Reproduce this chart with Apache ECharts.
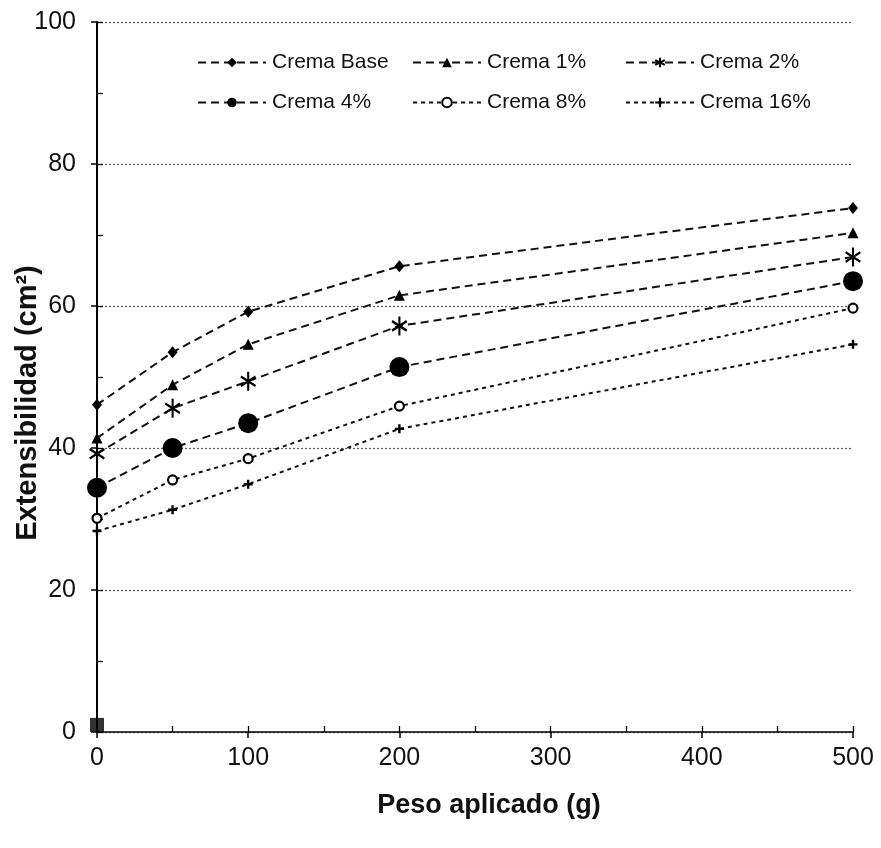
<!DOCTYPE html>
<html>
<head>
<meta charset="utf-8">
<script src="https://cdn.jsdelivr.net/npm/echarts@6/dist/echarts.min.js"></script>
<style>
html,body{margin:0;padding:0;background:#fff;}
#c{width:881px;height:848px;}
</style>
</head>
<body>
<div id="c"></div>
<script>
const pesos = [0, 50, 100, 200, 500];
const cremaBase = [46.1, 53.5, 59.2, 65.6, 73.8];
const crema1 = [41.4, 48.9, 54.6, 61.5, 70.3];
const crema2 = [39.2, 45.6, 49.4, 57.2, 66.9];
const crema4 = [34.4, 40.0, 43.5, 51.4, 63.5];
const crema8 = [30.1, 35.5, 38.5, 45.9, 59.7];
const crema16 = [28.3, 31.3, 34.9, 42.7, 54.6];
const marcaOrigen = [[0, 1]];
const seriesNames = ['Crema Base', 'Crema 1%', 'Crema 2%', 'Crema 4%', 'Crema 8%', 'Crema 16%'];
const xTicks = [0, 100, 200, 300, 400, 500];
const yTicks = [0, 20, 40, 60, 80, 100];

const FONT = "'Liberation Sans', Arial, sans-serif";
const pair = (arr) => pesos.map((p, i) => [p, arr[i]]);

const dashed = [8, 5];
const dotted = [4, 4];
const asterisk = 'path://M10,0L10,20M1.34,5L18.66,15M1.34,15L18.66,5';
const plus = 'path://M5,0L5,10M0,5L10,5';

function lineSeries(name, arr, symbol, size, dash, extraItem) {
  return {
    name: name, type: 'line', data: pair(arr),
    symbol: symbol, symbolSize: size, symbolKeepAspect: true,
    showAllSymbol: true,
    lineStyle: { color: '#111', width: 2, type: dash },
    itemStyle: Object.assign({ color: '#000', borderColor: '#000', borderWidth: 0 }, extraItem || {}),
    emphasis: { disabled: true },
    animation: false, z: 3
  };
}

const series = [
  lineSeries(seriesNames[0], cremaBase, 'diamond', [10, 12], dashed),
  lineSeries(seriesNames[1], crema1, 'triangle', [11, 11], dashed),
  lineSeries(seriesNames[2], crema2, asterisk, [17, 19], dashed, { color: 'none', borderWidth: 2.2 }),
  lineSeries(seriesNames[3], crema4, 'circle', 20, dashed),
  lineSeries(seriesNames[4], crema8, 'circle', 9, dotted, { color: '#fff', borderWidth: 2.2 }),
  lineSeries(seriesNames[5], crema16, plus, 9, dotted, { color: 'none', borderWidth: 2.4 }),
  { name: 'marca', type: 'scatter', data: marcaOrigen, symbol: 'rect', symbolSize: 14,
    itemStyle: { color: '#000' }, z: 4, animation: false, emphasis: { disabled: true } }
];

const legendPos = [
  { name: seriesNames[0], left: 197, top: 52 },
  { name: seriesNames[1], left: 412, top: 52 },
  { name: seriesNames[2], left: 625, top: 52 },
  { name: seriesNames[3], left: 197, top: 92 },
  { name: seriesNames[4], left: 412, top: 92 },
  { name: seriesNames[5], left: 625, top: 92 }
];
const legends = legendPos.map(l => ({
  data: [l.name], left: l.left, top: l.top, orient: 'horizontal',
  itemWidth: 68, itemHeight: 12, itemGap: 0, padding: 0,
  selectedMode: false,
  textStyle: { fontFamily: FONT, fontSize: 21, color: '#111', padding: [0, 0, 0, 1] }
}));

const option = {
  backgroundColor: '#fff',
  animation: false,
  grid: { left: 97, right: 28, top: 22, bottom: 116, containLabel: false, outerBoundsMode: 'none' },
  legend: legends,
  xAxis: [
    {
      type: 'value', min: xTicks[0], max: xTicks[xTicks.length - 1], interval: 100,
      name: 'Peso aplicado (g)', nameLocation: 'middle', nameGap: 60, nameMoveOverlap: false,
      nameTextStyle: { fontFamily: FONT, fontSize: 27, fontWeight: 'bold', color: '#111', padding: [0, 0, 0, 28] },
      axisLine: { show: true, lineStyle: { color: '#000', width: 1.6 } },
      axisTick: { show: true, length: 6, inside: false, lineStyle: { color: '#000', width: 1.5 } },
      axisLabel: { fontFamily: FONT, fontSize: 25, color: '#111', margin: 14 },
      splitLine: { show: false }
    },
    {
      type: 'value', min: 0, max: 500, interval: 50, position: 'bottom',
      axisLine: { show: false },
      axisTick: { show: true, length: 6, inside: true, lineStyle: { color: '#000', width: 1.3 } },
      axisLabel: { show: false }, splitLine: { show: false }
    }
  ],
  yAxis: [
    {
      type: 'value', min: yTicks[0], max: yTicks[yTicks.length - 1], interval: 20,
      name: 'Extensibilidad (cm²)', nameLocation: 'middle', nameGap: 55, nameMoveOverlap: false,
      nameTextStyle: { fontFamily: FONT, fontSize: 29, fontWeight: 'bold', color: '#111', padding: [0, 52, 0, 0] },
      axisLine: { show: true, lineStyle: { color: '#000', width: 2 } },
      axisTick: { show: true, length: 6, inside: false, lineStyle: { color: '#000', width: 1.5 } },
      axisLabel: { fontFamily: FONT, fontSize: 25, color: '#111', margin: 21 },
      splitLine: { show: true, lineStyle: { color: '#555', width: 1.2, type: [2, 2] } }
    },
    {
      type: 'value', min: 0, max: 100, interval: 10, position: 'left',
      axisLine: { show: false },
      axisTick: { show: true, length: 6, inside: true, lineStyle: { color: '#000', width: 1.3 } },
      axisLabel: { show: false }, splitLine: { show: false }
    }
  ],
  series: series
};

const chart = echarts.init(document.getElementById('c'), null, { renderer: 'canvas' });
chart.setOption(option);
</script>
</body>
</html>
